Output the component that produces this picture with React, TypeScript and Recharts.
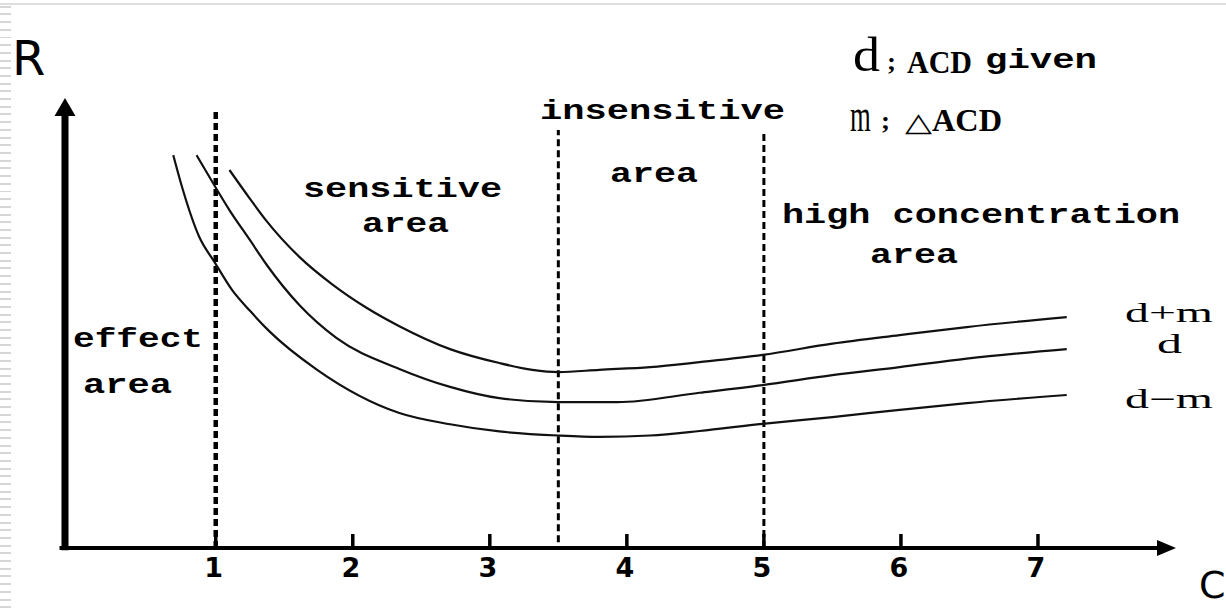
import React from 'react';
import { LineChart, Line, XAxis, YAxis, ReferenceLine, ReferenceDot } from 'recharts';

// x-axis ticks (concentration C)
const xTicks = [1, 2, 3, 4, 5, 6, 7];

// curve d-m
const lowerX = [0.69, 0.76, 0.88, 0.99, 1.12, 1.25, 1.39, 1.74, 2.34, 2.71, 3.07, 3.5, 3.8, 4.17, 4.53, 4.99, 5.5, 5.99, 6.48, 7.21];
const lowerR = [8.73, 7.96, 6.91, 6.36, 5.73, 5.27, 4.82, 3.96, 3.0, 2.75, 2.59, 2.5, 2.47, 2.5, 2.6, 2.76, 2.91, 3.07, 3.22, 3.4];

// curve d
const givenX = [0.86, 0.98, 1.1, 1.25, 1.37, 1.61, 1.88, 2.34, 2.71, 3.07, 3.5, 3.93, 4.53, 4.99, 5.5, 5.99, 6.48, 7.21];
const givenR = [8.73, 8.11, 7.51, 6.84, 6.3, 5.4, 4.67, 3.98, 3.58, 3.33, 3.24, 3.24, 3.45, 3.62, 3.84, 4.02, 4.21, 4.42];

// curve d+m
const upperX = [1.1, 1.25, 1.37, 1.61, 1.85, 2.1, 2.34, 2.71, 3.07, 3.31, 3.5, 3.8, 4.17, 4.53, 4.99, 5.5, 5.99, 6.48, 7.21];
const upperR = [8.4, 7.76, 7.27, 6.47, 5.86, 5.34, 4.93, 4.42, 4.11, 3.96, 3.91, 3.96, 4.02, 4.13, 4.29, 4.54, 4.73, 4.91, 5.13];

// region dividers
const dividerX = [1, 3.5, 5];
const dividerTop = [9.73, 9.29, 9.29];
const dividerBottom = [0, 0.13, 0];

const toRows = (xs: number[], rs: number[]) => xs.map((x, i) => ({ x, r: rs[i] }));

const lowerRows = toRows(lowerX, lowerR);
const givenRows = toRows(givenX, givenR);
const upperRows = toRows(upperX, upperR);

const X_MIN = -0.1;
const X_MAX = 8;
const R_MAX = 10;

const MONO = "'Liberation Mono', 'DejaVu Sans Mono', monospace";
const SERIF = "'Liberation Serif', 'DejaVu Serif', serif";
const SANS = "'DejaVu Sans', sans-serif";

const Tick = (props: any) => {
  const { x, y, payload } = props;
  return (
    <text x={x - 2} y={y + 29} textAnchor="middle" fontFamily={SANS} fontWeight="bold" fontSize={27} fill="#000">
      {payload.value}
    </text>
  );
};

const TickMark = (props: any) => {
  const { cx, cy } = props;
  return <rect x={cx - 1.75} y={cy - 14} width={3.5} height={16} fill="#000" />;
};

const XArrow = (props: any) => {
  const { cx, cy } = props;
  return <polygon points={`${cx + 1},${cy} ${cx - 18},${cy - 8} ${cx - 18},${cy + 8}`} fill="#000" />;
};

const YArrow = (props: any) => {
  const { cx, cy } = props;
  return <polygon points={`${cx},${cy} ${cx - 10.5},${cy + 18} ${cx + 10.5},${cy + 18}`} fill="#000" />;
};

const makeDivider = (width: number) => (props: any) => {
  const { x1, y1, x2, y2 } = props;
  return <line x1={x1} y1={y1} x2={x2} y2={y2} stroke="#000" strokeWidth={width} strokeDasharray="7 4" />;
};

const MonoLabel = ({ x, y, len, children }: any) => (
  <text x={x} y={y} textLength={len} lengthAdjust="spacingAndGlyphs" fontFamily={MONO} fontWeight="bold" fontSize={28} fill="#000">
    {children}
  </text>
);

const SerifLabel = ({ x, y, len, size, bold, children }: any) => (
  <text x={x} y={y} textLength={len} lengthAdjust="spacingAndGlyphs" fontFamily={SERIF} fontWeight={bold ? 'bold' : 'normal'} fontSize={size} fill="#000">
    {children}
  </text>
);

export default function App() {
  return (
    <div style={{ position: 'absolute', left: 0, top: 0, width: 1226, height: 609, background: '#fff', overflow: 'hidden' }}>
      <div
        style={{
          position: 'absolute', left: 0, top: 0, width: 11, height: 609,
          background: 'repeating-linear-gradient(to bottom, transparent 0px, transparent 5.7px, #d6d6d6 5.7px, #d6d6d6 7.7px)',
        }}
      />
      <div style={{ position: 'absolute', left: 0, top: 3, width: 1226, height: 2, background: '#dedede' }} />
      <div style={{ position: 'absolute', left: 0, top: 0 }}>
        <LineChart width={1226} height={609} margin={{ top: 98, right: 51, bottom: 21, left: 65 }}>
          <XAxis
            type="number"
            dataKey="x"
            domain={[X_MIN, X_MAX]}
            allowDataOverflow
            ticks={xTicks}
            interval={0}
            axisLine={false}
            tickLine={false}
            tickSize={0}
            tickMargin={0}
            height={40}
            tick={<Tick />}
          />
          <YAxis type="number" dataKey="r" domain={[0, R_MAX]} hide allowDataOverflow />
          {dividerX.map((dx, i) => (
            <ReferenceLine
              key={`div-${i}`}
              segment={[{ x: dx, y: dividerBottom[i] }, { x: dx, y: dividerTop[i] }]}
              stroke="#000"
              strokeWidth={i === 0 ? 4.5 : 3}
              strokeDasharray="7 4"
              ifOverflow="visible"
              shape={makeDivider(i === 0 ? 4.5 : 3)}
            />
          ))}
          <Line data={upperRows} dataKey="r" type="monotone" stroke="#111" strokeWidth={2.2} dot={false} isAnimationActive={false} />
          <Line data={givenRows} dataKey="r" type="monotone" stroke="#111" strokeWidth={2.2} dot={false} isAnimationActive={false} />
          <Line data={lowerRows} dataKey="r" type="monotone" stroke="#111" strokeWidth={2.2} dot={false} isAnimationActive={false} />
          <ReferenceLine
            segment={[{ x: X_MIN - 0.04, y: 0 }, { x: 7.88, y: 0 }]}
            stroke="#000"
            strokeWidth={4}
            ifOverflow="visible"
          />
          <ReferenceLine
            segment={[{ x: X_MIN, y: -0.05 }, { x: X_MIN, y: 9.6 }]}
            stroke="#000"
            strokeWidth={7}
            ifOverflow="visible"
          />
          {xTicks.map((t) => (
            <ReferenceDot key={`tick-${t}`} x={t} y={0} r={0} ifOverflow="visible" shape={<TickMark />} />
          ))}
          <ReferenceDot x={X_MAX} y={0} r={0} ifOverflow="visible" shape={<XArrow />} />
          <ReferenceDot x={X_MIN} y={R_MAX} r={0} ifOverflow="visible" shape={<YArrow />} />
        </LineChart>
      </div>
      <svg width={1226} height={609} style={{ position: 'absolute', left: 0, top: 0, pointerEvents: 'none' }}>
        <text x={12} y={75} fontFamily={SANS} fontSize={48} fill="#000">R</text>
        <text x={1199} y={598} fontFamily={SANS} fontSize={38} fill="#000">C</text>

        <MonoLabel x={303} y={197} len={199}>sensitive</MonoLabel>
        <MonoLabel x={362} y={232} len={87}>area</MonoLabel>
        <MonoLabel x={540} y={119} len={245}>insensitive</MonoLabel>
        <MonoLabel x={610} y={182} len={88}>area</MonoLabel>
        <MonoLabel x={782} y={223} len={398}>high concentration</MonoLabel>
        <MonoLabel x={870} y={263} len={88}>area</MonoLabel>
        <MonoLabel x={73} y={347} len={130}>effect</MonoLabel>
        <MonoLabel x={83} y={393} len={89}>area</MonoLabel>

        <SerifLabel x={853} y={71} len={27} size={48}>d</SerifLabel>
        <SerifLabel x={887} y={70} len={9} size={26} bold>;</SerifLabel>
        <SerifLabel x={907} y={73} len={65} size={31} bold>ACD</SerifLabel>
        <MonoLabel x={985} y={68} len={112}>given</MonoLabel>

        <g transform="translate(850,131) scale(0.58,1)">
          <text x={0} y={0} fontFamily={SERIF} fontSize={46} fill="#000">m</text>
        </g>
        <SerifLabel x={881} y={129} len={9} size={26} bold>;</SerifLabel>
        <text x={905} y={131} textLength={27} lengthAdjust="spacingAndGlyphs" fontFamily={SANS} fontSize={26} fill="#000">△</text>
        <SerifLabel x={932} y={131} len={70} size={32} bold>ACD</SerifLabel>

        <SerifLabel x={1125} y={322} len={88} size={27}>d+m</SerifLabel>
        <SerifLabel x={1157} y={353} len={25} size={27}>d</SerifLabel>
        <SerifLabel x={1125} y={408} len={88} size={27}>d−m</SerifLabel>
      </svg>
    </div>
  );
}
